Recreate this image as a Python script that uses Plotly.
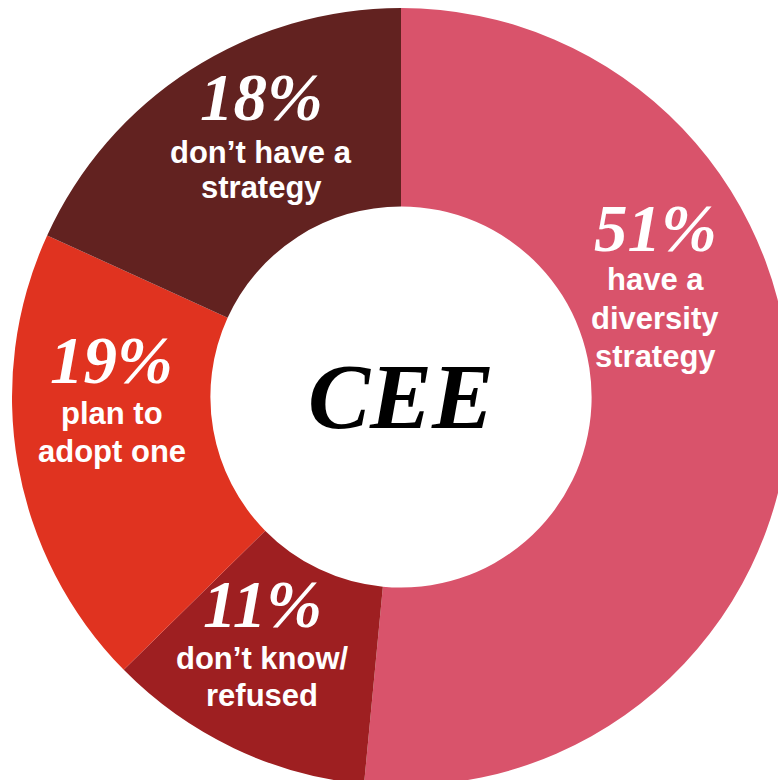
import plotly.graph_objects as go

# Survey results: share of companies by diversity-strategy status
categories = ["have a diversity strategy", "don’t know/ refused",
              "plan to adopt one", "don’t have a strategy"]
values = [51, 11, 19, 18]
colors = ["#D9536B", "#9E1F21", "#E03320", "#622220"]

# Multi-line captions shown under each percentage
captions = [
    ["have a", "diversity", "strategy"],
    ["don’t know/", "refused"],
    ["plan to", "adopt one"],
    ["don’t have a", "strategy"],
]

# Figure canvas (px) and donut geometry
W, H = 802, 794
cx, cy, r = 401, 397, 389

fig = go.Figure(go.Pie(
    labels=categories,
    values=values,
    marker=dict(colors=colors, line=dict(width=0)),
    hole=0.49,
    sort=False,
    direction="clockwise",
    rotation=0,
    textinfo="none",
    hoverinfo="label+value",
    showlegend=False,
    domain=dict(x=[(cx - r) / W, (cx + r) / W],
                y=[1 - (cy + r) / H, 1 - (cy - r) / H]),
))

# Label anchor positions in pixels: (x, y of percent, y of first caption line)
label_pos = [
    (655, 228, 280),
    (262, 604, 658),
    (112, 360, 413),
    (261, 97, 152),
]
line_gap = [38, 37, 39, 36]


def px(x, y):
    return x / W, 1 - y / H


annotations = []
for v, cap, (x, yp, yc), gap in zip(values, captions, label_pos, line_gap):
    ax, ay = px(x, yp)
    annotations.append(dict(
        x=ax, y=ay, xref="paper", yref="paper", showarrow=False,
        xanchor="center", yanchor="middle", text=f"{v}%",
        font=dict(family="Liberation Serif", size=67, color="white",
                  weight="bold", style="italic"),
    ))
    for i, line in enumerate(cap):
        lx, ly = px(x, yc + i * gap)
        annotations.append(dict(
            x=lx, y=ly, xref="paper", yref="paper", showarrow=False,
            xanchor="center", yanchor="middle", text=line,
            font=dict(family="Liberation Sans", size=31, color="white",
                      weight="bold"),
        ))

# Region title in the hole
tx, ty = px(cx, 396)
annotations.append(dict(
    x=tx, y=ty, xref="paper", yref="paper", showarrow=False,
    xanchor="center", yanchor="middle", text="CEE",
    font=dict(family="Liberation Serif", size=93, color="black",
              weight="bold", style="italic"),
))

fig.update_layout(
    width=W, height=H,
    margin=dict(l=0, r=0, t=0, b=0),
    paper_bgcolor="white",
    plot_bgcolor="white",
    annotations=annotations,
)

fig.write_html(
    "out.html",
    post_script="document.body.style.margin='0';"
                "document.body.style.overflow='hidden';",
)
